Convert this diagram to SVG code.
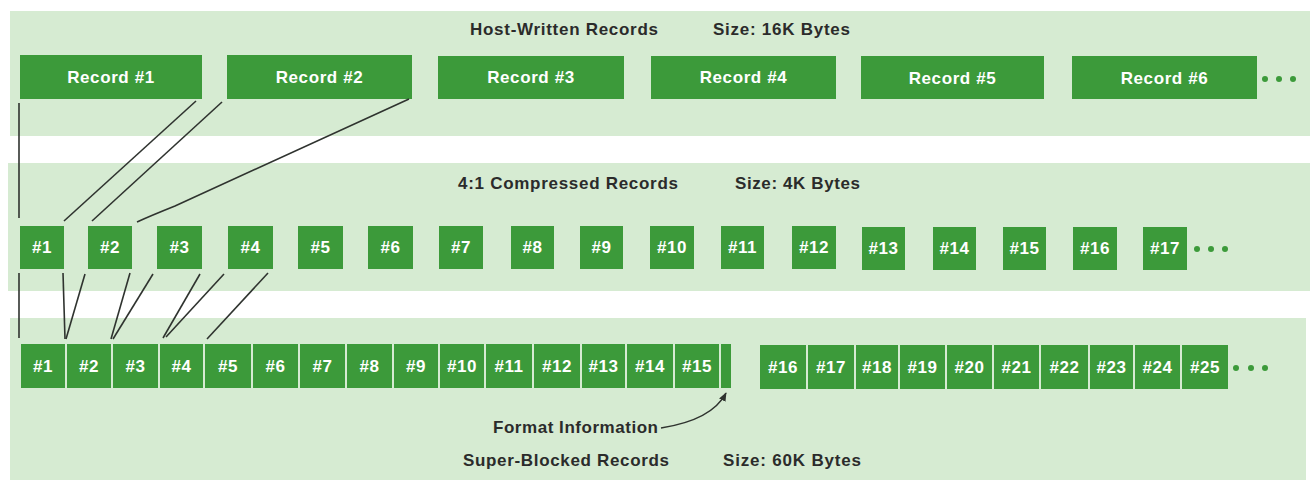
<svg xmlns="http://www.w3.org/2000/svg" width="1310" height="480" viewBox="0 0 1310 480">
<defs>
<style>
.band{fill:#d6ebd2}
.box{fill:#3c9a3a}
.bt{font-family:"Liberation Sans",Arial,sans-serif;font-weight:bold;fill:#ffffff;text-anchor:middle;font-size:17px;letter-spacing:0.6px}
.lbl{font-family:"Liberation Sans",Arial,sans-serif;font-weight:bold;fill:#2b2b2b;font-size:17px}
.ln{stroke:#2f332f;stroke-width:1.6;fill:none}
.dot{fill:#3c9a3a}
</style>
<marker id="ah" viewBox="0 0 10 10" refX="9" refY="5" markerWidth="9" markerHeight="9" orient="auto" markerUnits="userSpaceOnUse">
<path d="M0,1 L10,5 L0,9 Z" fill="#2f332f"/>
</marker>
</defs>
<rect width="1310" height="480" fill="#ffffff"/>
<rect class="band" x="10" y="11" width="1300" height="125"/>
<rect class="band" x="8" y="163" width="1302" height="128"/>
<rect class="band" x="10" y="318" width="1296" height="162"/>

<g id="labels">
<text class="lbl" x="470" y="35" textLength="188" lengthAdjust="spacing">Host-Written Records</text>
<text class="lbl" x="713" y="35" textLength="137" lengthAdjust="spacing">Size: 16K Bytes</text>
<text class="lbl" x="458" y="189" textLength="220" lengthAdjust="spacing">4:1 Compressed Records</text>
<text class="lbl" x="735" y="189" textLength="125" lengthAdjust="spacing">Size: 4K Bytes</text>
<text class="lbl" x="493" y="433" textLength="165" lengthAdjust="spacing">Format Information</text>
<text class="lbl" x="463" y="466" textLength="206" lengthAdjust="spacing">Super-Blocked Records</text>
<text class="lbl" x="723" y="466" textLength="138" lengthAdjust="spacing">Size: 60K Bytes</text>
</g>

<g id="host-records">
<g id="rec1"><rect class="box" x="20" y="55" width="182" height="44"/><text class="bt" x="111" y="83">Record #1</text></g>
<g id="rec2"><rect class="box" x="227" y="55" width="185" height="44"/><text class="bt" x="319.5" y="83">Record #2</text></g>
<g id="rec3"><rect class="box" x="438" y="56" width="186" height="43"/><text class="bt" x="531" y="83">Record #3</text></g>
<g id="rec4"><rect class="box" x="651" y="56" width="185" height="43"/><text class="bt" x="743.5" y="83">Record #4</text></g>
<g id="rec5"><rect class="box" x="861" y="56" width="183" height="43"/><text class="bt" x="952.5" y="84">Record #5</text></g>
<g id="rec6"><rect class="box" x="1072" y="56" width="185" height="43"/><text class="bt" x="1164.5" y="84">Record #6</text></g>
<g id="host-more"><circle class="dot" cx="1265" cy="79" r="3"/><circle class="dot" cx="1279" cy="79" r="3"/><circle class="dot" cx="1293" cy="79" r="3"/></g>
</g>

<g id="compressed-records">
<g id="c1"><rect class="box" x="20" y="226" width="44" height="43"/><text class="bt" x="42" y="253">#1</text></g>
<g id="c2"><rect class="box" x="88" y="226" width="44" height="43"/><text class="bt" x="110" y="253">#2</text></g>
<g id="c3"><rect class="box" x="157" y="226" width="45" height="43"/><text class="bt" x="179.5" y="253">#3</text></g>
<g id="c4"><rect class="box" x="228" y="226" width="45" height="43"/><text class="bt" x="250.5" y="253">#4</text></g>
<g id="c5"><rect class="box" x="298" y="226" width="45" height="43"/><text class="bt" x="320.5" y="253">#5</text></g>
<g id="c6"><rect class="box" x="368" y="226" width="45" height="43"/><text class="bt" x="390.5" y="253">#6</text></g>
<g id="c7"><rect class="box" x="439" y="226" width="44" height="43"/><text class="bt" x="461" y="253">#7</text></g>
<g id="c8"><rect class="box" x="511" y="226" width="43" height="43"/><text class="bt" x="532.5" y="253">#8</text></g>
<g id="c9"><rect class="box" x="580" y="226" width="43" height="43"/><text class="bt" x="601.5" y="253">#9</text></g>
<g id="c10"><rect class="box" x="650" y="226" width="44" height="43"/><text class="bt" x="672" y="253">#10</text></g>
<g id="c11"><rect class="box" x="721" y="226" width="43" height="43"/><text class="bt" x="742.5" y="253">#11</text></g>
<g id="c12"><rect class="box" x="792" y="226" width="44" height="43"/><text class="bt" x="814" y="253">#12</text></g>
<g id="c13"><rect class="box" x="862" y="227" width="43" height="43"/><text class="bt" x="883.5" y="254">#13</text></g>
<g id="c14"><rect class="box" x="933" y="227" width="43" height="43"/><text class="bt" x="954.5" y="254">#14</text></g>
<g id="c15"><rect class="box" x="1003" y="227" width="43" height="43"/><text class="bt" x="1024.5" y="254">#15</text></g>
<g id="c16"><rect class="box" x="1073" y="227" width="44" height="43"/><text class="bt" x="1095" y="254">#16</text></g>
<g id="c17"><rect class="box" x="1143" y="227" width="44" height="43"/><text class="bt" x="1165" y="254">#17</text></g>
<g id="c-more"><circle class="dot" cx="1197" cy="249" r="3"/><circle class="dot" cx="1211" cy="249" r="3"/><circle class="dot" cx="1225" cy="249" r="3"/></g>
</g>

<g id="super-blocked-records">
<g id="s1"><rect class="box" x="21" y="344" width="44" height="44"/><text class="bt" x="43" y="372">#1</text></g>
<g id="s2"><rect class="box" x="67" y="344" width="44" height="44"/><text class="bt" x="89" y="372">#2</text></g>
<g id="s3"><rect class="box" x="113" y="344" width="45" height="44"/><text class="bt" x="135.5" y="372">#3</text></g>
<g id="s4"><rect class="box" x="160" y="344" width="43" height="44"/><text class="bt" x="181.5" y="372">#4</text></g>
<g id="s5"><rect class="box" x="205" y="344" width="46" height="44"/><text class="bt" x="228" y="372">#5</text></g>
<g id="s6"><rect class="box" x="253" y="344" width="45" height="44"/><text class="bt" x="275.5" y="372">#6</text></g>
<g id="s7"><rect class="box" x="300" y="344" width="45" height="44"/><text class="bt" x="322.5" y="372">#7</text></g>
<g id="s8"><rect class="box" x="347" y="344" width="45" height="44"/><text class="bt" x="369.5" y="372">#8</text></g>
<g id="s9"><rect class="box" x="394" y="344" width="44" height="44"/><text class="bt" x="416" y="372">#9</text></g>
<g id="s10"><rect class="box" x="440" y="344" width="44" height="44"/><text class="bt" x="462" y="372">#10</text></g>
<g id="s11"><rect class="box" x="486" y="344" width="46" height="44"/><text class="bt" x="509" y="372">#11</text></g>
<g id="s12"><rect class="box" x="534" y="344" width="46" height="44"/><text class="bt" x="557" y="372">#12</text></g>
<g id="s13"><rect class="box" x="582" y="344" width="43" height="44"/><text class="bt" x="603.5" y="372">#13</text></g>
<g id="s14"><rect class="box" x="627" y="344" width="46" height="44"/><text class="bt" x="650" y="372">#14</text></g>
<g id="s15"><rect class="box" x="675" y="344" width="44" height="44"/><text class="bt" x="697" y="372">#15</text></g>
<g id="format-info"><rect class="box" x="721" y="344" width="10" height="44"/></g>
<g id="s16"><rect class="box" x="760" y="345" width="46" height="44"/><text class="bt" x="783" y="373">#16</text></g>
<g id="s17"><rect class="box" x="808" y="345" width="46" height="44"/><text class="bt" x="831" y="373">#17</text></g>
<g id="s18"><rect class="box" x="856" y="345" width="42" height="44"/><text class="bt" x="877" y="373">#18</text></g>
<g id="s19"><rect class="box" x="900" y="345" width="45" height="44"/><text class="bt" x="922.5" y="373">#19</text></g>
<g id="s20"><rect class="box" x="947" y="345" width="45" height="44"/><text class="bt" x="969.5" y="373">#20</text></g>
<g id="s21"><rect class="box" x="994" y="345" width="45" height="44"/><text class="bt" x="1016.5" y="373">#21</text></g>
<g id="s22"><rect class="box" x="1041" y="345" width="47" height="44"/><text class="bt" x="1064.5" y="373">#22</text></g>
<g id="s23"><rect class="box" x="1090" y="345" width="43" height="44"/><text class="bt" x="1111.5" y="373">#23</text></g>
<g id="s24"><rect class="box" x="1135" y="345" width="45" height="44"/><text class="bt" x="1157.5" y="373">#24</text></g>
<g id="s25"><rect class="box" x="1182" y="345" width="46" height="44"/><text class="bt" x="1205" y="373">#25</text></g>
<g id="s-more"><circle class="dot" cx="1236" cy="368" r="3"/><circle class="dot" cx="1251" cy="368" r="3"/><circle class="dot" cx="1265" cy="368" r="3"/></g>
</g>

<g id="connectors">
<line class="ln" x1="19" y1="103" x2="19" y2="218"/>
<line class="ln" x1="196" y1="101" x2="64" y2="221"/>
<line class="ln" x1="222" y1="102" x2="92" y2="221"/>
<path class="ln" d="M409,99 L175,206 Q150,216 137,222"/>
<line class="ln" x1="19" y1="273" x2="19" y2="338"/>
<line class="ln" x1="63" y1="273" x2="65" y2="339"/>
<line class="ln" x1="85" y1="274" x2="66" y2="339"/>
<line class="ln" x1="130" y1="273" x2="111" y2="339"/>
<line class="ln" x1="153" y1="274" x2="113" y2="339"/>
<line class="ln" x1="200" y1="274" x2="163" y2="338"/>
<line class="ln" x1="224" y1="274" x2="166" y2="337"/>
<line class="ln" x1="268" y1="273" x2="207" y2="339"/>
<path class="ln" d="M661,428 Q712,420 726,393" marker-end="url(#ah)"/>
</g>
</svg>
